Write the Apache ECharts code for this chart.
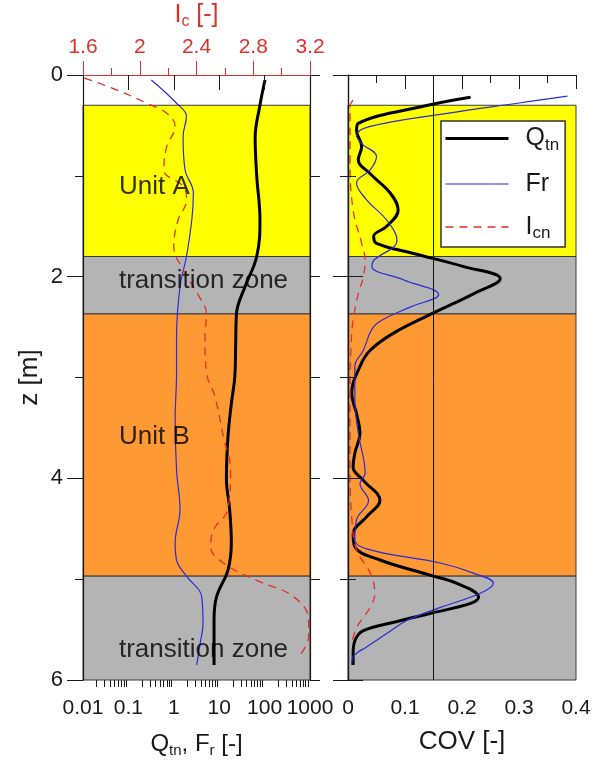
<!DOCTYPE html>
<html>
<head>
<meta charset="utf-8">
<script src="https://cdn.jsdelivr.net/npm/echarts@6/dist/echarts.min.js"></script>
<style>
  html, body { margin: 0; padding: 0; background: #fff; }
  #main { width: 600px; height: 760px; }
</style>
</head>
<body>
<div id="main"></div>
<script>
// profile values, depth z in m
const qtnDepth = [0.05, 0.30, 0.62, 1.0, 1.43, 1.80, 2.1, 2.37, 2.7, 3.0, 3.26, 3.59, 4.0, 4.31, 4.64, 4.91, 5.17, 5.40, 5.85];
const qtnValues = [102, 79, 62, 67, 79, 67, 37, 24, 23, 22, 18.5, 15.6, 14.4, 17, 18.5, 15.6, 8.8, 7.7, 7.7];

const frDepth = [0.05, 0.28, 0.41, 0.61, 0.94, 1.17, 1.43, 1.80, 2.1, 2.6, 2.95, 3.42, 3.92, 4.31, 4.64, 4.81, 4.97, 5.17, 5.44, 5.64, 5.85];
const frValues = [0.32, 1.15, 1.9, 1.6, 1.77, 2.7, 2.5, 1.9, 1.37, 1.15, 1.15, 1.07, 1.15, 1.37, 1.07, 1.15, 1.9, 4.1, 4.4, 3.8, 3.2];

const icDepth = [0.03, 0.15, 0.28, 0.38, 0.51, 0.71, 0.94, 1.11, 1.24, 1.44, 1.70, 1.94, 2.2, 2.37, 2.6, 2.95, 3.19, 3.59, 3.92, 4.31, 4.51, 4.68, 4.84, 5.01, 5.17, 5.40, 5.57, 5.77];
const icValues = [1.61, 1.84, 2.05, 2.19, 2.25, 2.19, 2.17, 2.31, 2.33, 2.27, 2.24, 2.31, 2.42, 2.47, 2.46, 2.47, 2.53, 2.59, 2.64, 2.62, 2.52, 2.50, 2.59, 2.82, 3.08, 3.19, 3.19, 3.12];

// coefficient of variation
const covQtnDepth = [0.22, 0.30, 0.48, 0.55, 0.71, 0.84, 0.98, 1.17, 1.34, 1.50, 1.60, 1.67, 1.77, 1.90, 2.02, 2.17, 2.36, 2.56, 2.73, 2.89, 3.16, 3.36, 3.55, 3.75, 3.89, 4.02, 4.22, 4.38, 4.55, 4.68, 4.81, 4.96, 5.04, 5.18, 5.24, 5.34, 5.42, 5.51, 5.61, 5.74, 5.85];
const covQtn = [0.215, 0.14, 0.018, 0.015, 0.024, 0.018, 0.039, 0.074, 0.088, 0.068, 0.045, 0.05, 0.115, 0.203, 0.267, 0.22, 0.15, 0.08, 0.039, 0.021, 0.0065, 0.015, 0.021, 0.012, 0.009, 0.027, 0.056, 0.033, 0.009, 0.012, 0.056, 0.144, 0.19, 0.229, 0.215, 0.144, 0.086, 0.027, 0.012, 0.009, 0.009];

const covFrDepth = [0.21, 0.28, 0.38, 0.51, 0.60, 0.68, 0.81, 0.94, 1.07, 1.24, 1.44, 1.64, 1.84, 1.90, 2.03, 2.18, 2.30, 2.43, 2.52, 2.73, 2.89, 3.22, 3.55, 3.95, 4.05, 4.22, 4.41, 4.61, 4.71, 4.84, 4.94, 5.04, 5.14, 5.28, 5.41, 5.54, 5.67, 5.77, 5.85];
const covFr = [0.385, 0.297, 0.174, 0.039, 0.015, 0.024, 0.05, 0.039, 0.015, 0.033, 0.068, 0.086, 0.045, 0.042, 0.097, 0.159, 0.11, 0.06, 0.042, 0.027, 0.012, 0.012, 0.018, 0.030, 0.021, 0.036, 0.015, 0.012, 0.039, 0.162, 0.22, 0.255, 0.232, 0.162, 0.103, 0.068, 0.033, 0.009, 0.0065];

const covIcDepth = [0.25, 0.31, 0.84, 1.34, 1.67, 1.84, 2.0, 2.17, 2.33, 2.56, 3.22, 3.89, 4.38, 4.71, 4.94, 5.14, 5.28, 5.48, 5.64];
const covIc = [0.009, 0.0035, 0.0035, 0.009, 0.024, 0.03, 0.027, 0.018, 0.012, 0.0065, 0.0035, 0.0035, 0.0065, 0.015, 0.039, 0.047, 0.039, 0.015, 0.0065];

// soil layers
const layerTop = [0.3, 1.8, 2.37, 4.97];
const layerBottom = [1.8, 2.37, 4.97, 6];
const layerNames = ['Unit A', 'transition zone', 'Unit B', 'transition zone'];
const layerLabelDepth = [1.11, 2.04, 3.59, 5.70];
const layerLabelX = 0.062;

const logMinorTicks = [];
[0.01, 0.1, 1, 10, 100].forEach(d => {
  for (let k = 2; k <= 9; k++) logMinorTicks.push(Math.log10(d * k));
});
const covTopTicks = [0.05, 0.15, 0.25, 0.35];
const covRef = 0.15;

const layerColors = ['#ffff00', '#b4b4b4', '#ff9933', '#b4b4b4'];
const txt = '#1a1a1a';
const red = '#e0302c';
const blue = '#2b2bd6';
const font = 'Liberation Sans, Arial, sans-serif';

function pairs(z, v) {
  return z.map((d, i) => [v[i], d]);
}

const bands = layerTop.map((t, i) => [
  { yAxis: t, itemStyle: { color: layerColors[i], borderColor: '#3a3a3a', borderWidth: 1 } },
  { yAxis: layerBottom[i] }
]);

const subRich = (size, sub, color) => ({
  a: { fontSize: size, lineHeight: size + 4, color: color, fontFamily: font },
  s: { fontSize: sub, lineHeight: sub - 3, verticalAlign: 'bottom', color: color, fontFamily: font }
});

let chartDom = document.getElementById('main');
let myChart = echarts.init(chartDom);
let option = {
  animation: false,
  textStyle: { fontFamily: font, color: txt },
  grid: [
    { left: 83, top: 75, width: 227, height: 605, outerBoundsMode: 'none' },
    { left: 348, top: 75, width: 228, height: 605, outerBoundsMode: 'none' },
    { left: 83, top: 75, width: 227, height: 605, outerBoundsMode: 'none' }
  ],
  legend: {
    data: ['Qtn', 'Fr', 'Icn'],
    orient: 'vertical',
    left: 441,
    top: 121,
    padding: [5, 6, 5, 3],
    itemWidth: 63,
    itemHeight: 14,
    itemGap: 18,
    backgroundColor: '#fff',
    borderColor: '#333',
    borderWidth: 1.5,
    borderRadius: 0,
    lineStyle: { width: 'inherit' },
    itemStyle: { opacity: 0, borderWidth: 0 },
    formatter: function (name) {
      if (name === 'Qtn') return '{a|Q}{s|tn}';
      if (name === 'Fr') return '{a|Fr}';
      return '{a|I}{s|cn}';
    },
    textStyle: {
      rich: {
        a: { fontSize: 25, lineHeight: 30, padding: [0, 0, 0, 12], color: txt, fontFamily: font },
        s: { fontSize: 17, lineHeight: 13, verticalAlign: 'bottom', color: txt, fontFamily: font }
      }
    }
  },
  xAxis: [
    {
      gridIndex: 0, type: 'log', logBase: 10, min: 0.01, max: 1000, position: 'bottom', z: 5,
      axisLine: { lineStyle: { color: txt, width: 1.2 } },
      axisTick: { length: 15, lineStyle: { color: txt } },
      axisLabel: { fontSize: 21, margin: 18, color: txt, formatter: v => String(+Number(v).toPrecision(6)) },
      splitLine: { show: false },
      name: '{a|Q}{s|tn}{a|, F}{s|r}{a| [-]}',
      nameLocation: 'middle', nameGap: 50,
      nameTextStyle: { rich: subRich(24, 15, txt) }
    },
    {
      gridIndex: 0, type: 'value', min: 1.6, max: 3.2, interval: 0.4, position: 'top', z: 5,
      axisLine: { lineStyle: { color: red, width: 1.2 } },
      axisTick: { length: 14, lineStyle: { color: red } },
      minorTick: { show: true, splitNumber: 2, length: 7, lineStyle: { color: red } },
      axisLabel: { fontSize: 21, margin: 17, color: red },
      splitLine: { show: false },
      name: '{a|I}{s|c}{a| [-]}',
      nameLocation: 'middle', nameGap: 45,
      nameTextStyle: { rich: subRich(25, 16, red) }
    },
    {
      gridIndex: 1, type: 'value', min: 0, max: 0.4, interval: 0.1, position: 'bottom', z: 5,
      axisLine: { lineStyle: { color: txt, width: 1.2 } },
      axisTick: { length: 14, lineStyle: { color: txt } },
      minorTick: { show: true, splitNumber: 2, length: 7, lineStyle: { color: txt } },
      axisLabel: { fontSize: 21, margin: 18, color: txt },
      splitLine: { show: false },
      name: 'COV [-]', nameLocation: 'middle', nameGap: 49,
      nameTextStyle: { fontSize: 26, color: txt }
    },
    {
      gridIndex: 1, type: 'value', min: 0, max: 0.4, position: 'top', z: 5,
      axisLine: { lineStyle: { color: txt, width: 1.2 } },
      axisTick: { inside: true, length: 8, customValues: covTopTicks, lineStyle: { color: txt } },
      axisLabel: { show: false },
      splitLine: { show: false }
    },
    {
      gridIndex: 2, type: 'value', min: -2, max: 3, position: 'bottom', z: 5,
      axisLine: { show: false },
      axisTick: { length: 7, customValues: logMinorTicks, lineStyle: { color: txt } },
      axisLabel: { show: false },
      splitLine: { show: false }
    }
  ],
  yAxis: [
    {
      gridIndex: 0, type: 'value', inverse: true, min: 0, max: 6, interval: 2, position: 'left', z: 5,
      axisLine: { lineStyle: { color: txt, width: 1.2 } },
      axisTick: { length: 16, lineStyle: { color: txt } },
      minorTick: { show: true, splitNumber: 2, length: 8, lineStyle: { color: txt } },
      axisLabel: { fontSize: 22, margin: 20, color: txt },
      splitLine: { show: false },
      name: 'z [m]', nameLocation: 'middle', nameGap: 40,
      nameTextStyle: { fontSize: 26, color: txt }
    },
    {
      gridIndex: 0, type: 'value', inverse: true, min: 0, max: 6, interval: 1, position: 'right', z: 5,
      axisLine: { lineStyle: { color: txt, width: 1.2 } },
      axisTick: { length: 10, lineStyle: { color: txt } },
      axisLabel: { show: false },
      splitLine: { show: false }
    },
    {
      gridIndex: 1, type: 'value', inverse: true, min: 0, max: 6, interval: 2, position: 'left', z: 5,
      axisLine: { lineStyle: { color: txt, width: 1.2 } },
      axisTick: { length: 15, lineStyle: { color: txt } },
      minorTick: { show: true, splitNumber: 2, length: 8, lineStyle: { color: txt } },
      axisLabel: { show: false },
      splitLine: { show: false }
    },
    {
      gridIndex: 1, type: 'value', inverse: true, min: 0, max: 6, interval: 2, position: 'right', z: 5,
      axisLine: { lineStyle: { color: txt, width: 1.2 } },
      axisTick: { length: 15, lineStyle: { color: txt } },
      minorTick: { show: true, splitNumber: 2, length: 8, lineStyle: { color: txt } },
      axisLabel: { show: false },
      splitLine: { show: false }
    },
    { gridIndex: 2, type: 'value', show: false, min: 0, max: 6 }
  ],
  series: [
    {
      name: 'layersLeft', type: 'line', xAxisIndex: 0, yAxisIndex: 0, data: [], z: 1, silent: true,
      markArea: { silent: true, data: bands }
    },
    {
      name: 'layerLabels', type: 'scatter', xAxisIndex: 0, yAxisIndex: 0, z: 4, silent: true,
      symbolSize: 0,
      data: layerLabelDepth.map(z => [layerLabelX, z]),
      label: {
        show: true, position: 'right', distance: 0, fontSize: 26, color: '#000',
        formatter: p => layerNames[p.dataIndex]
      }
    },
    {
      name: 'Qtn', type: 'line', xAxisIndex: 0, yAxisIndex: 0, z: 3,
      data: pairs(qtnDepth, qtnValues), smooth: 0.4, symbol: 'none',
      lineStyle: { color: '#000', width: 3 }, itemStyle: { color: '#000' }
    },
    {
      name: 'Fr', type: 'line', xAxisIndex: 0, yAxisIndex: 0, z: 3,
      data: pairs(frDepth, frValues), smooth: 0.4, symbol: 'none',
      lineStyle: { color: blue, width: 1.2 }, itemStyle: { color: blue }
    },
    {
      name: 'Icn', type: 'line', xAxisIndex: 1, yAxisIndex: 0, z: 3,
      data: pairs(icDepth, icValues), smooth: 0.4, symbol: 'none',
      lineStyle: { color: red, width: 1.3, type: [8, 6] }, itemStyle: { color: red }
    },
    {
      name: 'layersRight', type: 'line', xAxisIndex: 2, yAxisIndex: 2, data: [], z: 1, silent: true,
      markArea: { silent: true, data: bands },
      markLine: {
        silent: true, symbol: 'none', label: { show: false },
        lineStyle: { color: '#111', width: 1, type: 'solid' },
        data: [{ xAxis: covRef }]
      }
    },
    {
      name: 'Qtn', type: 'line', xAxisIndex: 2, yAxisIndex: 2, z: 3,
      data: pairs(covQtnDepth, covQtn), smooth: 0.4, symbol: 'none',
      lineStyle: { color: '#000', width: 3 }, itemStyle: { color: '#000' }
    },
    {
      name: 'Fr', type: 'line', xAxisIndex: 2, yAxisIndex: 2, z: 3,
      data: pairs(covFrDepth, covFr), smooth: 0.4, symbol: 'none',
      lineStyle: { color: blue, width: 1.2 }, itemStyle: { color: blue }
    },
    {
      name: 'Icn', type: 'line', xAxisIndex: 2, yAxisIndex: 2, z: 3,
      data: pairs(covIcDepth, covIc), smooth: 0.4, symbol: 'none',
      lineStyle: { color: red, width: 1.3, type: [8, 6] }, itemStyle: { color: red }
    }
  ]
};

option && myChart.setOption(option);
</script>
</body>
</html>
